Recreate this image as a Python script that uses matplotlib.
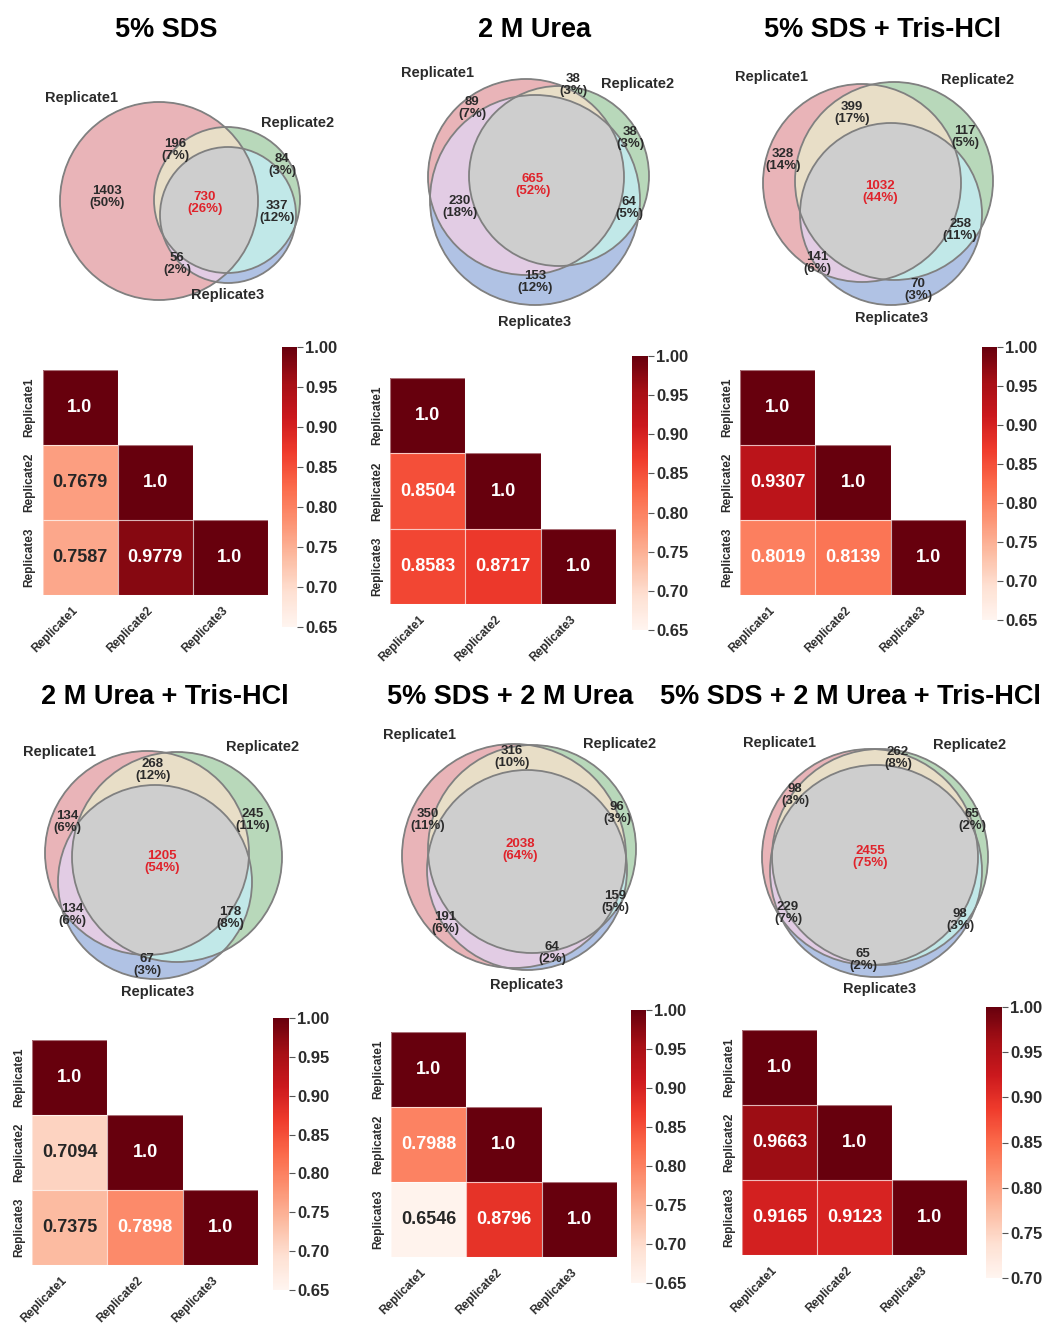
import numpy as np
import matplotlib
matplotlib.use("Agg")
import matplotlib.pyplot as plt
from matplotlib.patches import Circle, Rectangle
import seaborn as sns

plt.rcParams["font.family"] = ["Liberation Sans", "DejaVu Sans"]
plt.rcParams["font.weight"] = "bold"

# ---------------------------------------------------------------- data
titles = ["5% SDS", "2 M Urea", "5% SDS + Tris-HCl",
          "2 M Urea + Tris-HCl", "5% SDS + 2 M Urea", "5% SDS + 2 M Urea + Tris-HCl"]
replicates = ["Replicate1", "Replicate2", "Replicate3"]

# Venn region order: R1 only, R2 only, R3 only, R1&R2, R1&R3, R2&R3, R1&R2&R3
venn_counts_sds = [1403, 84, None, 196, 56, 337, 730]
venn_pct_sds = [50, 3, None, 7, 2, 12, 26]
venn_counts_urea = [89, 38, 153, 38, 230, 64, 665]
venn_pct_urea = [7, 3, 12, 3, 18, 5, 52]
venn_counts_sds_tris = [328, 117, 70, 399, 141, 258, 1032]
venn_pct_sds_tris = [14, 5, 3, 17, 6, 11, 44]
venn_counts_urea_tris = [134, 245, 67, 268, 134, 178, 1205]
venn_pct_urea_tris = [6, 11, 3, 12, 6, 8, 54]
venn_counts_sds_urea = [350, 96, 64, 316, 191, 159, 2038]
venn_pct_sds_urea = [11, 3, 2, 10, 6, 5, 64]
venn_counts_all = [98, 65, 65, 262, 229, 98, 2455]
venn_pct_all = [3, 2, 2, 8, 7, 3, 75]

# Pearson correlations (lower triangle): r(2,1), r(3,1), r(3,2)
corr_sds = [0.7679, 0.7587, 0.9779]
corr_urea = [0.8504, 0.8583, 0.8717]
corr_sds_tris = [0.9307, 0.8019, 0.8139]
corr_urea_tris = [0.7094, 0.7375, 0.7898]
corr_sds_urea = [0.7988, 0.6546, 0.8796]
corr_all = [0.9663, 0.9165, 0.9123]

cbar_min = [0.65, 0.65, 0.65, 0.65, 0.65, 0.70]
cbar_max = 1.00

venn_counts = [venn_counts_sds, venn_counts_urea, venn_counts_sds_tris,
               venn_counts_urea_tris, venn_counts_sds_urea, venn_counts_all]
venn_pcts = [venn_pct_sds, venn_pct_urea, venn_pct_sds_tris,
             venn_pct_urea_tris, venn_pct_sds_urea, venn_pct_all]
corrs = [corr_sds, corr_urea, corr_sds_tris, corr_urea_tris, corr_sds_urea, corr_all]

# ---------------------------------------------------------------- layout (pixels)
W, H = 1045, 1328
title_xy = [(166, 30), (535, 30), (883, 30), (165, 697), (510, 697), (850, 697)]

circles = [
    [(159, 201, 99), (227, 200, 73), (228, 215, 68)],
    [(526, 177, 98), (559, 176, 90), (535, 200, 105)],
    [(862, 183, 99), (894, 181, 99), (891, 214, 91)],
    [(147, 853, 102), (177, 857, 105), (155, 882, 97)],
    [(514, 856, 112), (532, 849, 104), (527, 870, 100)],
    [(870, 857, 108), (880, 857, 108), (876, 871, 106)],
]
set_label_xy = [
    [(82, 98), (298, 123), (228, 295)],
    [(438, 73), (638, 84), (535, 322)],
    [(772, 77), (978, 80), (892, 318)],
    [(60, 752), (263, 747), (158, 992)],
    [(420, 735), (620, 744), (527, 985)],
    [(780, 743), (970, 745), (880, 989)],
]
region_xy = [
    [(107, 197), (282, 165), None, (175, 150), (177, 264), (277, 212), (205, 203)],
    [(472, 108), (630, 138), (535, 282), (573, 85), (460, 207), (629, 208), (533, 185)],
    [(783, 160), (965, 137), (918, 290), (852, 113), (817, 263), (960, 230), (880, 192)],
    [(67, 822), (253, 820), (147, 965), (153, 770), (72, 915), (230, 918), (162, 862)],
    [(428, 820), (617, 813), (552, 953), (512, 757), (445, 923), (615, 902), (520, 850)],
    [(795, 795), (972, 820), (863, 960), (898, 758), (788, 913), (960, 920), (870, 857)],
]
heat_box = [(42.5, 370, 267.5, 595), (390, 378, 616, 604), (740, 370, 966, 595),
            (32, 1040, 258, 1265), (391, 1032, 617, 1257), (742, 1030, 967, 1255)]
cbar_box = [(282, 347, 297, 627), (632, 356, 648, 630), (982, 347, 997, 620),
            (273, 1018, 289, 1290), (631, 1010, 646, 1283), (986, 1007, 1002, 1278)]

# region colours keyed by membership bits (R1=1, R2=2, R3=4)
region_rgb = {
    1: (233, 180, 184), 2: (184, 216, 186), 4: (176, 194, 228),
    3: (232, 222, 199), 5: (226, 204, 228), 6: (193, 232, 232), 7: (206, 206, 206),
}
edge_color = "#808080"
text_color = "#2b2b2b"
core_color = "#e0232b"

fig = plt.figure(figsize=(W / 100, H / 100), dpi=100)
fig.patch.set_facecolor("white")

ov = fig.add_axes([0, 0, 1, 1])
ov.set_xlim(0, W)
ov.set_ylim(H, 0)
ov.axis("off")


def frac_box(b):
    x0, y0, x1, y1 = b
    return [x0 / W, 1 - y1 / H, (x1 - x0) / W, (y1 - y0) / H]


# ---------------------------------------------------------------- Venn fills
ss = 3
img = np.zeros((H * ss, W * ss, 4), dtype=np.float32)
for circ in circles:
    xmin = int(min(c[0] - c[2] for c in circ)) - 3
    xmax = int(max(c[0] + c[2] for c in circ)) + 3
    ymin = int(min(c[1] - c[2] for c in circ)) - 3
    ymax = int(max(c[1] + c[2] for c in circ)) + 3
    xs = (np.arange(xmin * ss, xmax * ss) + 0.5) / ss
    ys = (np.arange(ymin * ss, ymax * ss) + 0.5) / ss
    X, Y = np.meshgrid(xs, ys)
    code = np.zeros(X.shape, dtype=int)
    for k, (cx, cy, r) in enumerate(circ):
        code += ((X - cx) ** 2 + (Y - cy) ** 2 <= r * r).astype(int) << k
    sub = img[ymin * ss:ymax * ss, xmin * ss:xmax * ss]
    for key, rgb in region_rgb.items():
        m = code == key
        sub[m, :3] = np.array(rgb) / 255.0
        sub[m, 3] = 1.0
ov.imshow(img, extent=(0, W, H, 0), interpolation="antialiased", zorder=1)

for p in range(6):
    for cx, cy, r in circles[p]:
        ov.add_patch(Circle((cx, cy), r, fill=False, ec=edge_color, lw=1.3, zorder=2))
    for name, (x, y) in zip(replicates, set_label_xy[p]):
        ov.text(x, y, name, ha="center", va="center", fontsize=10.5,
                color=text_color, zorder=3)
    for k in range(7):
        c = venn_counts[p][k]
        if c is None:
            continue
        x, y = region_xy[p][k]
        ov.text(x, y, f"{c}\n({venn_pcts[p][k]}%)", ha="center", va="center",
                fontsize=9.5, linespacing=1.0,
                color=core_color if k == 6 else text_color, zorder=3)
    tx, ty = title_xy[p]
    ov.text(tx, ty, titles[p], ha="center", va="center", fontsize=19.5, color="black")

# ---------------------------------------------------------------- heatmaps
for p in range(6):
    r21, r31, r32 = corrs[p]
    mat = np.array([[1.0, 0.0, 0.0], [r21, 1.0, 0.0], [r31, r32, 1.0]])
    mask = np.triu(np.ones((3, 3), dtype=bool), k=1)
    labels = np.array([["1.0" if v == 1.0 else f"{v:.4f}" for v in row] for row in mat])
    hax = fig.add_axes(frac_box(heat_box[p]))
    cax = fig.add_axes(frac_box(cbar_box[p]))
    ticks = np.round(np.arange(cbar_min[p], cbar_max + 1e-9, 0.05), 2)
    sns.heatmap(mat, mask=mask, cmap="Reds", vmin=cbar_min[p], vmax=cbar_max,
                annot=labels, fmt="", annot_kws=dict(fontsize=13, fontweight="bold"),
                linewidths=0, ax=hax, cbar_ax=cax,
                cbar_kws=dict(ticks=ticks), xticklabels=replicates,
                yticklabels=replicates)
    # faint separators around the visible cells only
    for i in range(3):
        for j in range(i + 1):
            hax.add_patch(Rectangle((j, i), 1, 1, fill=False, ec="white",
                                    lw=0.8, alpha=0.45, zorder=2))
    hax.set_xticklabels(replicates, rotation=45, ha="right",
                        fontsize=8.5, fontweight="bold", color=text_color)
    hax.set_yticklabels(replicates, rotation=90, va="center", fontsize=8.5,
                        fontweight="bold", color=text_color)
    hax.tick_params(axis="x", length=0, pad=7)
    hax.tick_params(axis="y", length=0, pad=5)
    cax.set_yticks(ticks)
    cax.set_yticklabels([f"{t:.2f}" for t in ticks], fontsize=12, fontweight="bold",
                        color=text_color)
    cax.tick_params(length=4, width=0.8, color="#555555", pad=2)

fig.savefig("out.png", dpi=100, facecolor="white")
